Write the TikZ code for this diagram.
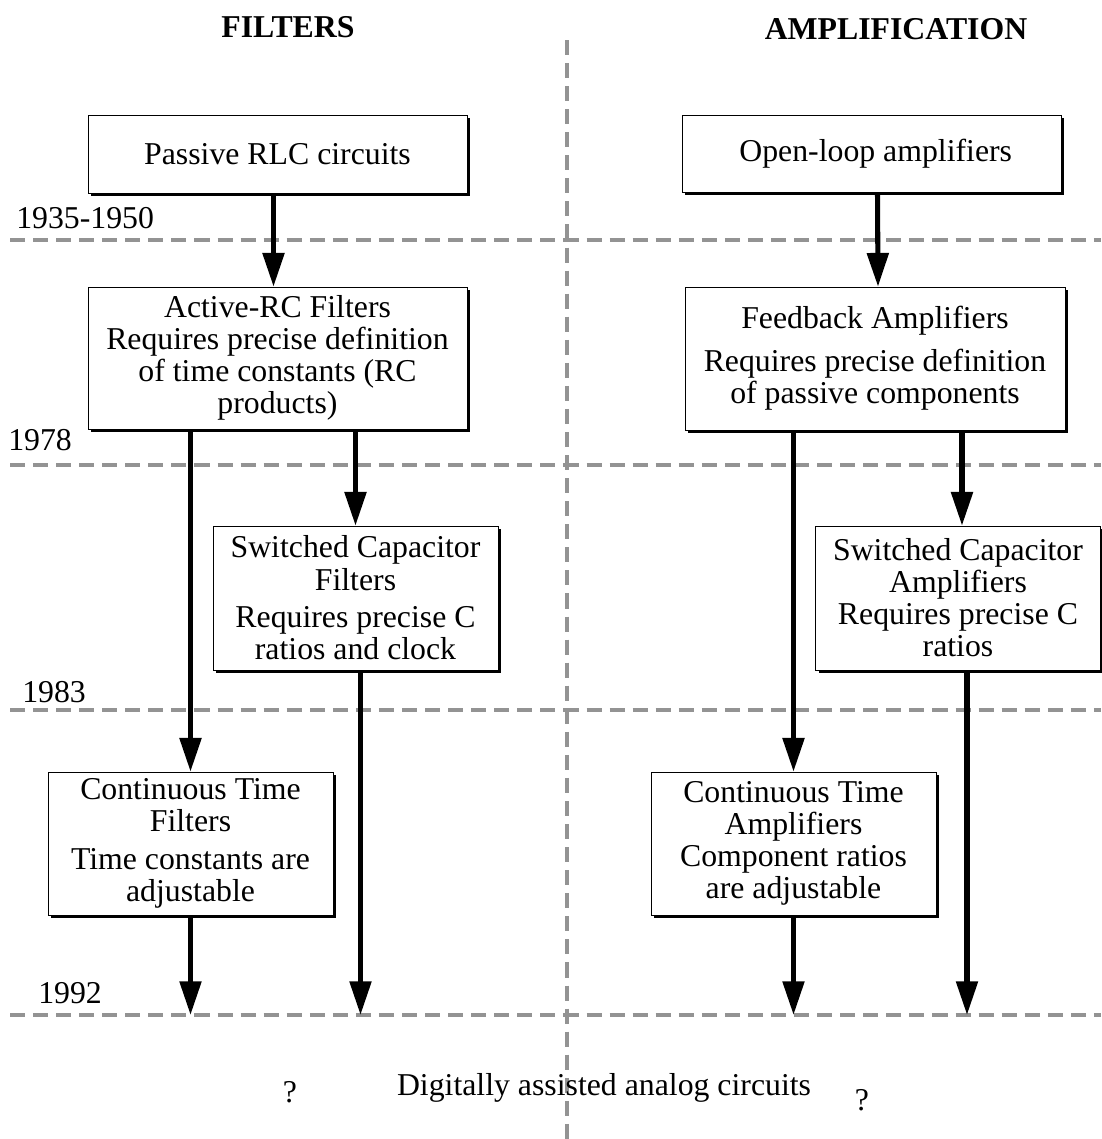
\documentclass[tikz,border=0pt]{standalone}
\usepackage{fontspec}
\setmainfont{Liberation Serif}
\usetikzlibrary{arrows.meta,shadows,calc}

\tikzset{
  stage/.style={draw, thin, fill=white, align=center, inner sep=2pt,
    font=\fontsize{22.6}{22.8}\selectfont,
    drop shadow={shadow xshift=2.2pt, shadow yshift=-2.4pt, fill=black, opacity=1}},
  era/.style={draw=gray!85, line width=2.2pt, dash pattern=on 10.7pt off 5.7pt},
  flow/.style={line width=3.6pt, -{Triangle[length=24pt,width=15pt]}},
  year/.style={anchor=west, inner sep=0pt, font=\fontsize{22.6}{22.8}\selectfont},
  head/.style={inner sep=0pt, font=\fontsize{22.6}{22.8}\selectfont\bfseries}
}

\begin{document}
\begin{tikzpicture}[x=0.025cm, y=-0.025cm]
  \useasboundingbox (0,0) rectangle (1101,1139);

  % time lines
  \coordinate (t1950) at (10,240);
  \coordinate (t1978) at (10,465);
  \coordinate (t1983) at (10,710);
  \coordinate (t1992) at (10,1015);
  \foreach \t in {t1950,t1978,t1983,t1992}
    \draw[era] (\t) -- ++(1091,0);
  \coordinate (vtop) at (567,40);
  \draw[era] (vtop) -- (567,1139);

  \node[head] (filt) at (288,27) {FILTERS};
  \node[head] (ampl) at (896,29) {AMPLIFICATION};

  \node[year] (y1) at (16,218) {1935-1950};
  \node[year] (y2) at (8,440) {1978};
  \node[year] (y3) at (22,692) {1983};
  \node[year] (y4) at (38,993) {1992};

  % filters
  \node[stage, minimum width=379*0.7113pt, minimum height=78*0.7113pt] (rlc) at (277.5,154)
    {Passive RLC circuits};
  \node[stage, minimum width=379*0.7113pt, minimum height=142*0.7113pt] (arc) at (277.5,358)
    {Active-RC Filters\\Requires precise definition\\of time constants (RC\\products)};
  \node[stage, minimum width=285*0.7113pt, minimum height=144*0.7113pt] (scf) at (355.5,598)
    {Switched Capacitor\\Filters\\[4pt]Requires precise C\\ratios and clock};
  \node[stage, minimum width=285*0.7113pt, minimum height=143*0.7113pt] (ctf) at (190.5,843.5)
    {Continuous Time\\Filters\\[4pt]Time constants are\\adjustable};

  % amplification
  \node[stage, minimum width=379*0.7113pt, minimum height=77*0.7113pt] (ola) at (871.5,153.5)
    {\hspace{6pt}Open-loop amplifiers};
  \node[stage, minimum width=380*0.7113pt, minimum height=143*0.7113pt] (fba) at (875,358.5)
    {Feedback Amplifiers\\[8pt]Requires precise definition\\of passive components};
  \node[stage, minimum width=285*0.7113pt, minimum height=144*0.7113pt] (sca) at (958,598)
    {Switched Capacitor\\Amplifiers\\Requires precise C\\ratios};
  \node[stage, minimum width=285*0.7113pt, minimum height=143*0.7113pt] (cta) at (793.5,843.5)
    {Continuous Time\\Amplifiers\\Component ratios\\are adjustable};

  % arrows
  \draw[flow] ($(rlc.south)+(-4,0)$) -- ($(arc.north)+(-4,0)$);
  \draw[flow] ($(ola.south)+(6,0)$) -- ($(fba.north)+(3,0)$);
  \draw[flow] (arc.south -| ctf.north) -- (ctf.north);
  \draw[flow] (arc.south -| scf.north) -- (scf.north);
  \draw[flow] ($(scf.south)+(5,0)$) -- ($(scf.south |- t1992)+(5,0)$);
  \draw[flow] (ctf.south) -- (ctf.south |- t1992);
  \draw[flow] (fba.south -| cta.north) -- (cta.north);
  \draw[flow] ($(fba.south -| sca.north)+(4,0)$) -- ($(sca.north)+(4,0)$);
  \draw[flow] ($(sca.south)+(9,0)$) -- ($(sca.south |- t1992)+(9,0)$);
  \draw[flow] (cta.south) -- (cta.south |- t1992);

  \node[inner sep=0pt, font=\fontsize{22.6}{22.8}\selectfont] (q1) at (290,1092) {?};
  \node[inner sep=0pt, font=\fontsize{22.6}{22.8}\selectfont] (dac) at (604,1088)
    {Digitally assisted analog circuits};
  \node[inner sep=0pt, font=\fontsize{22.6}{22.8}\selectfont] (q2) at (862,1100) {?};
\end{tikzpicture}
\end{document}
